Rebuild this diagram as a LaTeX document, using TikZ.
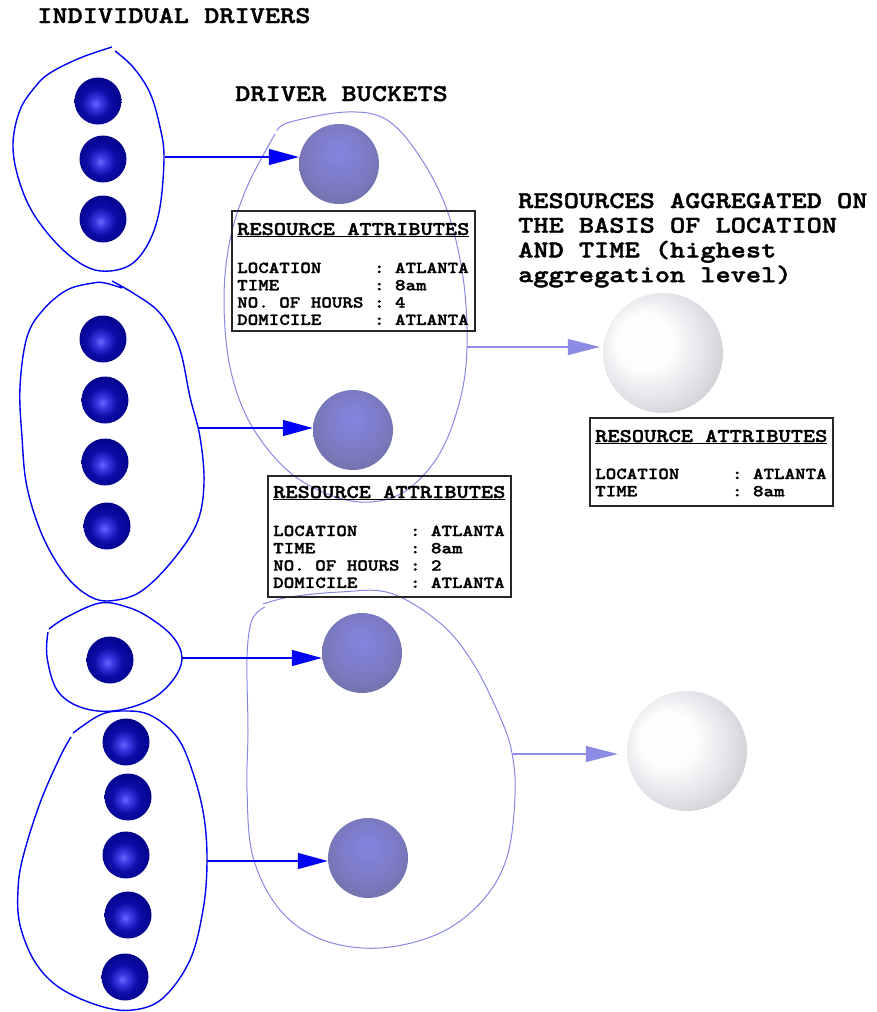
\documentclass[tikz,border=0pt]{standalone}
\usepackage{fontspec}
\newfontfamily\typefont{lmmonolt10-bold.otf}[FakeStretch=1.2, FakeBold=1.6]
\usetikzlibrary{arrows.meta}

% sphere shadings
\pgfdeclareradialshading{drvball}{\pgfpoint{-3bp}{-3bp}}{rgb(0bp)=(0.40,0.40,1); rgb(6bp)=(0.22,0.22,0.88); rgb(15bp)=(0.05,0.05,0.66); rgb(30bp)=(0,0,0.52); rgb(43bp)=(0,0,0.40); rgb(48bp)=(0,0,0.22); rgb(50bp)=(0,0,0.05)}
\pgfdeclareradialshading{bktball}{\pgfpoint{0bp}{8bp}}{rgb(0bp)=(0.52,0.52,0.88); rgb(20bp)=(0.48,0.48,0.76); rgb(34bp)=(0.43,0.43,0.62); rgb(43bp)=(0.36,0.36,0.46); rgb(48bp)=(0.26,0.26,0.29); rgb(50bp)=(0.1,0.1,0.1)}
\pgfdeclareradialshading{aggball}{\pgfpoint{-10bp}{6bp}}{rgb(0bp)=(1,1,1); rgb(12bp)=(0.99,0.99,0.99); rgb(25bp)=(0.87,0.87,0.90); rgb(36bp)=(0.76,0.76,0.76); rgb(44bp)=(0.64,0.64,0.56); rgb(48bp)=(0.52,0.52,0.44); rgb(50bp)=(0.30,0.30,0.25)}

\definecolor{strongblue}{RGB}{0,0,245}
\definecolor{softblue}{RGB}{135,135,228}
\definecolor{softarrow}{RGB}{140,140,228}

\tikzset{
  lbl/.style={anchor=base west, inner sep=0, font=\typefont\fontsize{24.1}{24.7}\selectfont},
  hdr/.style={anchor=base west, inner sep=0, font=\typefont\fontsize{19.4}{20}\selectfont},
  body/.style={anchor=base west, inner sep=0, font=\typefont\fontsize{16.7}{17.3}\selectfont},
  frame/.style={draw=black!85, line width=1.3pt, inner sep=0},
  drv/.style={circle, inner sep=0, minimum size=47pt, shading=drvball},
  bkt/.style={circle, inner sep=0, minimum size=80pt, shading=bktball},
  agg/.style={circle, inner sep=0, minimum size=120pt, shading=aggball},
  grp/.style={draw=strongblue, line width=1.4pt},
  bgrp/.style={draw=softblue, line width=1pt},
  feed/.style={draw=strongblue, line width=1.4pt, -{Triangle[length=30pt,width=16pt]}},
  aggfeed/.style={draw=softarrow, line width=1.4pt, -{Triangle[length=32pt,width=16pt]}}
}
% one attribute line: name padded to twelve columns, then the value
\newcommand{\attrrow}[2]{\makebox[12\fontcharwd\font`M][l]{#1}\ :\ #2}

\begin{document}
\begin{tikzpicture}[x=1pt, y=-1pt]
\useasboundingbox (0,0) rectangle (876,1012);

% headings
\node[lbl] (tInd) at (37,23) {INDIVIDUAL DRIVERS};
\node[lbl] (tBkt) at (235,101) {DRIVER BUCKETS};
\node[lbl] (tAgg) at (518,208) {\begin{tabular}[t]{@{}l@{}}RESOURCES AGGREGATED ON\\THE BASIS OF LOCATION\\AND TIME (highest\\aggregation level)\end{tabular}};

% groups of individual drivers
\draw[grp] plot[smooth, tension=0.6] coordinates {(112,47) (80,58) (50,73) (35,87) (20,110) (13,143) (18,177) (33,213) (60,247) (87,267) (110,271) (133,263) (150,240) (160,207) (164,157) (160,127) (150,93) (133,67) (115,51)};
\draw[grp] plot[smooth, tension=0.6] coordinates {(122,288) (105,283) (93,283) (67,290) (43,310) (27,337) (20,387) (22,437) (27,487) (43,537) (67,577) (93,598) (117,600) (143,590) (173,560) (197,523) (204,483) (200,437) (190,397) (182,357) (173,333) (157,310) (133,293) (112,281)};
\draw[grp] plot[smooth, tension=0.6] coordinates {(49,629) (67,617) (100,603) (127,607) (150,618) (173,637) (182,658) (173,680) (150,700) (113,711) (80,707) (57,690) (47,657) (48,632)};
\draw[grp] plot[smooth, tension=0.6] coordinates {(73,733) (100,715) (123,711) (150,715) (177,737) (193,773) (204,817) (207,863) (203,910) (190,960) (163,998) (133,1010) (100,1006) (60,988) (35,962) (20,925) (18,890) (23,857) (40,803) (60,757) (71,737)};

\node[drv] (d11) at (98,101) {};
\node[drv] (d12) at (103,159) {};
\node[drv] (d13) at (103,219) {};
\node[drv] (d21) at (103,339) {};
\node[drv] (d22) at (105,400) {};
\node[drv] (d23) at (105,462) {};
\node[drv] (d24) at (107,526) {};
\node[drv] (d31) at (110,660) {};
\node[drv] (d41) at (126,742) {};
\node[drv] (d42) at (128,797) {};
\node[drv] (d43) at (126,855) {};
\node[drv] (d44) at (128,915) {};
\node[drv] (d45) at (125,977) {};

% bucket outlines
\draw[bgrp] plot[smooth, tension=0.6] coordinates {(277,131) (290,122) (347,112) (387,120) (420,157) (447,210) (463,277) (467,347) (460,400) (440,453) (407,490) (370,502) (330,495) (287,470) (250,423) (230,367) (224,300) (230,240) (247,187) (275,134)};
\draw[bgrp] plot[smooth, tension=0.6] coordinates {(263,604) (290,597) (340,592) (390,593) (440,623) (473,663) (500,717) (512,753) (515,797) (507,857) (483,900) (440,933) (380,948) (323,940) (280,910) (253,857) (247,790) (248,730) (247,657) (252,620) (265,607)};

% driver buckets
\node[bkt] (b1) at (339,164) {};
\node[bkt] (b2) at (353,430) {};
\node[bkt] (b3) at (362,653) {};
\node[bkt] (b4) at (368,858) {};

% aggregated resources
\node[agg] (a1) at (663,353) {};
\node[agg] (a2) at (687,751) {};

% connector end points on the outlines
\coordinate (g1e) at (165,157);
\coordinate (g2e) at (198,428);
\coordinate (g3e) at (182,658);
\coordinate (g4e) at (207,861);
\coordinate (k1e) at (467,347);
\coordinate (k2e) at (513,754);

\draw[feed] (g1e) -- (g1e -| b1.west);
\draw[feed] (g2e) -- (g2e -| b2.west);
\draw[feed] (g3e) -- (g3e -| b3.west);
\draw[feed] (g4e) -- (g4e -| b4.west);
\draw[aggfeed, shorten >=3pt] (k1e) -- (k1e -| a1.west);
\draw[aggfeed, shorten >=9pt] (k2e) -- (k2e -| a2.west);

% attribute boxes
\node[frame, minimum width=243pt, minimum height=120pt] (box1) at (353.5,271) {};
\node[hdr] (box1h) at (237,235) {\underline{RESOURCE ATTRIBUTES}};
\node[body] (box1b) at (237,273) {\begin{tabular}[t]{@{}l@{}}\attrrow{LOCATION}{ATLANTA}\\\attrrow{TIME}{8am}\\\attrrow{NO. OF HOURS}{4}\\\attrrow{DOMICILE}{ATLANTA}\end{tabular}};

\node[frame, minimum width=243pt, minimum height=121pt] (box2) at (389.5,536.5) {};
\node[hdr] (box2h) at (273,498) {\underline{RESOURCE ATTRIBUTES}};
\node[body] (box2b) at (273,536) {\begin{tabular}[t]{@{}l@{}}\attrrow{LOCATION}{ATLANTA}\\\attrrow{TIME}{8am}\\\attrrow{NO. OF HOURS}{2}\\\attrrow{DOMICILE}{ATLANTA}\end{tabular}};

\node[frame, minimum width=243pt, minimum height=88pt] (box3) at (711.5,462) {};
\node[hdr] (box3h) at (595,442) {\underline{RESOURCE ATTRIBUTES}};
\node[body] (box3b) at (595,479) {\begin{tabular}[t]{@{}l@{}}\attrrow{LOCATION}{ATLANTA}\\\attrrow{TIME}{8am}\end{tabular}};
\end{tikzpicture}
\end{document}
